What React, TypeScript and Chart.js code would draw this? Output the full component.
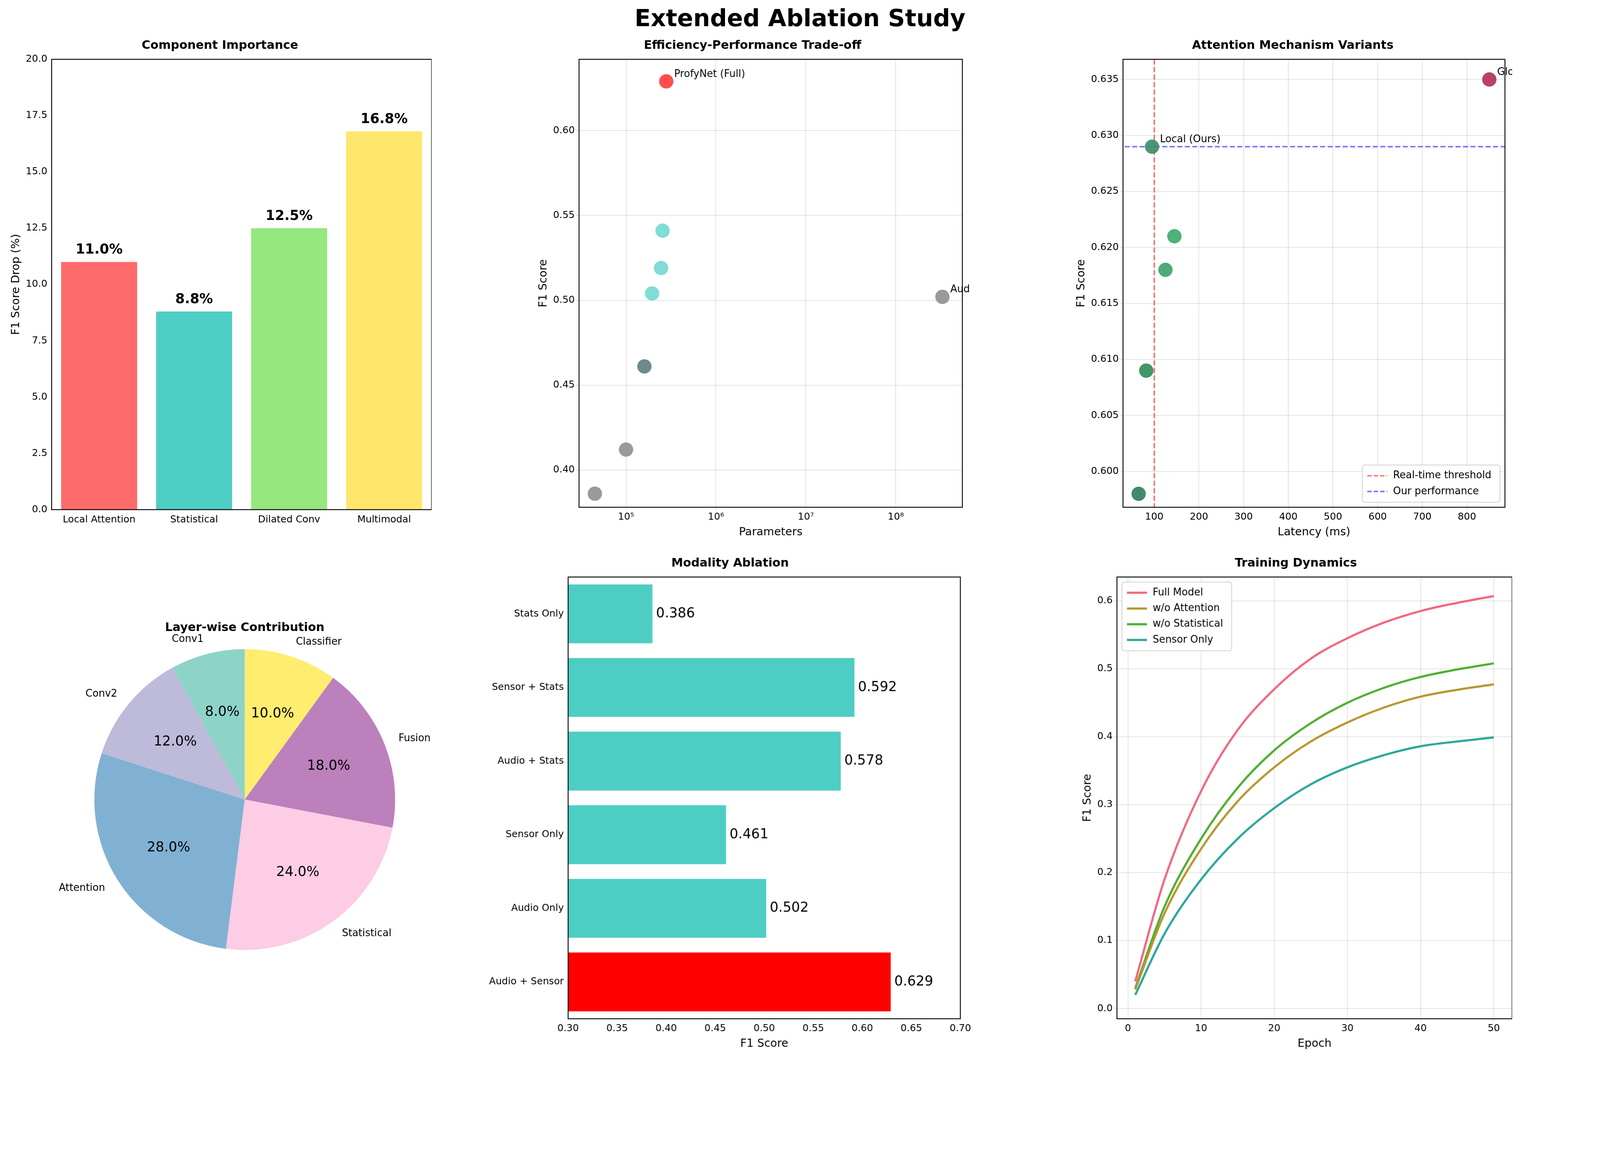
import { useEffect, useRef } from "react"
import { Chart, registerables } from "chart.js"

Chart.register(...registerables)

const FONT = "DejaVu Sans"
let K = 1 // css px per reference px
const px = (n: number) => n * K

// Component importance
const compLabels = ["Local Attention", "Statistical", "Dilated Conv", "Multimodal"]
const compDrop = [11.0, 8.8, 12.5, 16.8]
const compColors = ["#FF6B6B", "#4ECDC4", "#95E77E", "#FFE66D"]

// Efficiency trade-off
const effNames = ["ProfyNet (Full)", "", "", "", "", "", "", "Audio Only (MERT)"]
const effParams = [2.8e5, 2.55e5, 2.45e5, 1.95e5, 1.6e5, 1.0e5, 4.5e4, 3.3e8]
const effF1 = [0.629, 0.541, 0.519, 0.504, 0.461, 0.412, 0.386, 0.502]
const effColors = ["#FF4D4D", "#7FDCD6", "#7FDCD6", "#7FDCD6", "#6F8A8A", "#9A9A9A", "#9A9A9A", "#9A9A9A"]

// Attention variants
const attNames = ["", "", "Local (Ours)", "", "", "Global Attention"]
const attLatency = [65, 82, 95, 125, 145, 850]
const attF1 = [0.598, 0.609, 0.629, 0.618, 0.621, 0.635]
const attColors = ["#2E7D5B", "#2E8B57", "#3A8C6A", "#3CA06A", "#3CA86A", "#B03050"]

// Layer-wise contribution (clockwise from top)
const layerLabels = ["Classifier", "Fusion", "Statistical", "Attention", "Conv2", "Conv1"]
const layerShare = [10, 18, 24, 28, 12, 8]
const layerColors = ["#FFED6F", "#BC80BD", "#FCCDE5", "#80B1D3", "#BEBADA", "#8DD3C7"]

// Modality ablation
const modLabels = ["Stats Only", "Sensor + Stats", "Audio + Stats", "Sensor Only", "Audio Only", "Audio + Sensor"]
const modF1 = [0.386, 0.592, 0.578, 0.461, 0.502, 0.629]
const modColors = ["#4ECDC4", "#4ECDC4", "#4ECDC4", "#4ECDC4", "#4ECDC4", "#FF0000"]

// Training dynamics
const epochs = [1, 5, 10, 15, 20, 25, 30, 35, 40, 45, 50]
const fullModel = [0.04, 0.19, 0.32, 0.41, 0.47, 0.515, 0.545, 0.568, 0.585, 0.597, 0.607]
const woAttention = [0.028, 0.14, 0.235, 0.305, 0.355, 0.393, 0.421, 0.443, 0.459, 0.469, 0.477]
const woStatistical = [0.03, 0.15, 0.25, 0.325, 0.38, 0.42, 0.45, 0.472, 0.488, 0.499, 0.508]
const sensorOnly = [0.02, 0.11, 0.19, 0.25, 0.295, 0.33, 0.355, 0.373, 0.386, 0.393, 0.399]

const frame = {
  id: "frame",
  afterDraw(chart: any) {
    const { ctx, chartArea: a } = chart
    ctx.save()
    ctx.strokeStyle = "#000"
    ctx.lineWidth = px(2.5)
    ctx.strokeRect(a.left, a.top, a.right - a.left, a.bottom - a.top)
    ctx.restore()
  },
}

const titleOpt = (text: string) => ({
  display: true,
  text,
  color: "#000",
  font: { family: FONT, size: px(33), weight: "bold" as const },
  padding: { top: 0, bottom: px(18) },
})

const tickFont = () => ({ family: FONT, size: px(27) })
const axisTitle = (text: string) => ({ display: true, text, color: "#000", font: { family: FONT, size: px(31) } })
const grid = () => ({ color: "rgba(0,0,0,0.12)", lineWidth: px(2) })
const noGrid = { display: false }
const fixed = (vals: number[]) => (ax: any) => { ax.ticks = vals.map((v) => ({ value: v })) }

function legendBox(chart: any, items: { label: string; color: string; dash?: boolean }[], pos: "tl" | "br") {
  const { ctx, chartArea: a } = chart
  ctx.save()
  ctx.font = `${px(28)}px ${FONT}`
  const w = Math.max(...items.map((i) => ctx.measureText(i.label).width)) + px(110)
  const h = items.length * px(44) + px(16)
  const x = pos === "tl" ? a.left + px(14) : a.right - w - px(14)
  const y = pos === "tl" ? a.top + px(14) : a.bottom - h - px(14)
  ctx.fillStyle = "rgba(255,255,255,0.85)"
  ctx.strokeStyle = "#ccc"
  ctx.lineWidth = px(2)
  ctx.beginPath()
  ctx.roundRect(x, y, w, h, px(6))
  ctx.fill()
  ctx.stroke()
  items.forEach((it, i) => {
    const yy = y + px(30) + i * px(44)
    ctx.strokeStyle = it.color
    ctx.lineWidth = it.dash ? px(4) : px(6)
    ctx.setLineDash(it.dash ? [px(12), px(6)] : [])
    ctx.beginPath()
    ctx.moveTo(x + px(14), yy)
    ctx.lineTo(x + px(70), yy)
    ctx.stroke()
    ctx.setLineDash([])
    ctx.fillStyle = "#000"
    ctx.textBaseline = "middle"
    ctx.fillText(it.label, x + px(86), yy)
  })
  ctx.restore()
}

function makeConfigs(): any[] {
  const c1 = {
    type: "bar",
    data: { labels: compLabels, datasets: [{ data: compDrop, backgroundColor: compColors, barPercentage: 0.8, categoryPercentage: 1 }] },
    options: {
      scales: {
        x: { grid: noGrid, ticks: { font: tickFont(), color: "#000" } },
        y: { min: 0, max: 20, ticks: { stepSize: 2.5, font: tickFont(), color: "#000", callback: (v: number) => v.toFixed(1) }, grid: noGrid, title: axisTitle("F1 Score Drop (%)") },
      },
      plugins: { title: titleOpt("Component Importance") },
    },
    plugins: [frame, {
      id: "vals",
      afterDatasetsDraw(chart: any) {
        const { ctx } = chart
        ctx.save()
        ctx.font = `bold ${px(38)}px ${FONT}`
        ctx.textAlign = "center"
        ctx.textBaseline = "bottom"
        ctx.fillStyle = "#000"
        chart.getDatasetMeta(0).data.forEach((b: any, i: number) => ctx.fillText(compDrop[i].toFixed(1) + "%", b.x, b.y - px(14)))
        ctx.restore()
      },
    }],
  }

  const sup: Record<string, string> = { "5": "⁵", "6": "⁶", "7": "⁷", "8": "⁸" }
  const c2 = {
    type: "scatter",
    data: { datasets: [{ data: effParams.map((x, i) => ({ x, y: effF1[i] })), backgroundColor: effColors, pointRadius: px(20), borderWidth: 0 }] },
    options: {
      scales: {
        x: {
          type: "logarithmic", min: 3e4, max: 5.5e8, grid: grid(),
          afterBuildTicks: fixed([1e5, 1e6, 1e7, 1e8]),
          ticks: { font: tickFont(), color: "#000", callback: (v: number) => "10" + sup[String(Math.round(Math.log10(v)))] },
          title: axisTitle("Parameters"),
        },
        y: { min: 0.378, max: 0.642, grid: grid(), afterBuildTicks: fixed([0.4, 0.45, 0.5, 0.55, 0.6]), ticks: { font: tickFont(), color: "#000", callback: (v: number) => v.toFixed(2) }, title: axisTitle("F1 Score") },
      },
      plugins: { title: titleOpt("Efficiency-Performance Trade-off") },
    },
    plugins: [frame, {
      id: "ann",
      afterDatasetsDraw(chart: any) {
        const { ctx } = chart
        ctx.save()
        ctx.font = `${px(28)}px ${FONT}`
        ctx.fillStyle = "#000"
        ctx.textBaseline = "bottom"
        chart.getDatasetMeta(0).data.forEach((p: any, i: number) => { if (effNames[i]) ctx.fillText(effNames[i], p.x + px(22), p.y - px(6)) })
        ctx.restore()
      },
    }],
  }

  const c3 = {
    type: "scatter",
    data: {
      datasets: [
        { data: attLatency.map((x, i) => ({ x, y: attF1[i] })), backgroundColor: attColors.map((c) => c + "E6"), pointRadius: px(20), borderWidth: 0 },
        { type: "line", data: [{ x: 100, y: 0.5 }, { x: 100, y: 0.7 }], borderColor: "rgba(255,0,0,0.55)", borderDash: [px(14), px(7)], borderWidth: px(4), pointRadius: 0 },
        { type: "line", data: [{ x: 0, y: 0.629 }, { x: 1000, y: 0.629 }], borderColor: "rgba(0,0,255,0.55)", borderDash: [px(14), px(7)], borderWidth: px(4), pointRadius: 0 },
      ],
    },
    options: {
      scales: {
        x: { type: "linear", min: 30, max: 885, grid: grid(), afterBuildTicks: fixed([100, 200, 300, 400, 500, 600, 700, 800]), ticks: { font: tickFont(), color: "#000" }, title: axisTitle("Latency (ms)") },
        y: { min: 0.5968, max: 0.6368, grid: grid(), afterBuildTicks: fixed([0.6, 0.605, 0.61, 0.615, 0.62, 0.625, 0.63, 0.635]), ticks: { font: tickFont(), color: "#000", callback: (v: number) => v.toFixed(3) }, title: axisTitle("F1 Score") },
      },
      plugins: { title: titleOpt("Attention Mechanism Variants") },
    },
    plugins: [frame, {
      id: "ann",
      afterDraw(chart: any) {
        const { ctx } = chart
        ctx.save()
        ctx.font = `${px(28)}px ${FONT}`
        ctx.fillStyle = "#000"
        ctx.textBaseline = "bottom"
        chart.getDatasetMeta(0).data.forEach((p: any, i: number) => { if (attNames[i]) ctx.fillText(attNames[i], p.x + px(22), p.y - px(6)) })
        ctx.restore()
        legendBox(chart, [{ label: "Real-time threshold", color: "rgba(255,0,0,0.55)", dash: true }, { label: "Our performance", color: "rgba(0,0,255,0.55)", dash: true }], "br")
      },
    }],
  }

  const c4 = {
    type: "pie",
    data: { labels: layerLabels, datasets: [{ data: layerShare, backgroundColor: layerColors, borderWidth: 0 }] },
    options: {
      layout: { padding: { top: px(95), bottom: px(190), left: px(150), right: px(150) } },
      plugins: { title: titleOpt("Layer-wise Contribution"), legend: { display: false } },
    },
    plugins: [{
      id: "pieLabels",
      afterDatasetsDraw(chart: any) {
        const { ctx } = chart
        ctx.save()
        ctx.fillStyle = "#000"
        ctx.textBaseline = "middle"
        chart.getDatasetMeta(0).data.forEach((arc: any, i: number) => {
          const mid = (arc.startAngle + arc.endAngle) / 2
          const r = arc.outerRadius
          ctx.font = `${px(38)}px ${FONT}`
          ctx.textAlign = "center"
          ctx.fillText(layerShare[i].toFixed(1) + "%", arc.x + Math.cos(mid) * r * 0.6, arc.y + Math.sin(mid) * r * 0.6)
          ctx.font = `${px(28)}px ${FONT}`
          const lx = arc.x + Math.cos(mid) * r * 1.1
          const ly = arc.y + Math.sin(mid) * r * 1.1
          ctx.textAlign = Math.cos(mid) < -0.05 ? "right" : Math.cos(mid) > 0.05 ? "left" : "center"
          ctx.fillText(layerLabels[i], lx, ly)
        })
        ctx.restore()
      },
    }],
  }

  const c5 = {
    type: "bar",
    data: { labels: modLabels, datasets: [{ data: modF1, backgroundColor: modColors, barPercentage: 0.8, categoryPercentage: 1 }] },
    options: {
      indexAxis: "y",
      scales: {
        x: { min: 0.3, max: 0.7, grid: noGrid, ticks: { stepSize: 0.05, font: tickFont(), color: "#000", callback: (v: number) => v.toFixed(2) }, title: axisTitle("F1 Score") },
        y: { grid: noGrid, ticks: { font: tickFont(), color: "#000" } },
      },
      plugins: { title: titleOpt("Modality Ablation") },
    },
    plugins: [frame, {
      id: "vals",
      afterDatasetsDraw(chart: any) {
        const { ctx } = chart
        ctx.save()
        ctx.font = `${px(38)}px ${FONT}`
        ctx.textBaseline = "middle"
        ctx.fillStyle = "#000"
        chart.getDatasetMeta(0).data.forEach((b: any, i: number) => ctx.fillText(modF1[i].toFixed(3), b.x + px(10), b.y))
        ctx.restore()
      },
    }],
  }

  const series = [
    { label: "Full Model", data: fullModel, color: "#F0687F" },
    { label: "w/o Attention", data: woAttention, color: "#B8962E" },
    { label: "w/o Statistical", data: woStatistical, color: "#4DAF2E" },
    { label: "Sensor Only", data: sensorOnly, color: "#2BA59C" },
  ]
  const c6 = {
    type: "line",
    data: {
      datasets: series.map((s) => ({ label: s.label, data: epochs.map((x, i) => ({ x, y: s.data[i] })), borderColor: s.color, borderWidth: px(6), pointRadius: 0, cubicInterpolationMode: "monotone" })),
    },
    options: {
      scales: {
        x: { type: "linear", min: -1.5, max: 52.5, grid: grid(), afterBuildTicks: fixed([0, 10, 20, 30, 40, 50]), ticks: { font: tickFont(), color: "#000" }, title: axisTitle("Epoch") },
        y: { min: -0.015, max: 0.635, grid: grid(), afterBuildTicks: fixed([0, 0.1, 0.2, 0.3, 0.4, 0.5, 0.6]), ticks: { font: tickFont(), color: "#000", callback: (v: number) => v.toFixed(1) }, title: axisTitle("F1 Score") },
      },
      plugins: { title: titleOpt("Training Dynamics") },
    },
    plugins: [frame, { id: "leg", afterDraw: (chart: any) => legendBox(chart, series.map((s) => ({ label: s.label, color: s.color })), "tl") }],
  }
  return [c1, c2, c3, c4, c5, c6]
}

// canvas boxes in 1568-wide display coords (x, y, w, h)
const boxes = [
  [8, 38, 415, 478],
  [525, 38, 425, 492],
  [1052, 38, 430, 492],
  [40, 575, 400, 430],
  [478, 545, 475, 486],
  [1058, 545, 424, 486],
]

export default function App() {
  const refs = useRef<(HTMLCanvasElement | null)[]>([])
  const W = window.innerWidth || 4469
  K = W / 4469
  const S = W / 1568

  useEffect(() => {
    Chart.defaults.font.family = FONT
    Chart.defaults.color = "#000"
    const configs = makeConfigs()
    const charts = configs.map((cfg, i) => {
      cfg.options.animation = false
      cfg.options.responsive = false
      cfg.options.plugins.legend = { display: false }
      return new Chart(refs.current[i]!.getContext("2d")!, cfg)
    })
    return () => charts.forEach((c) => c.destroy())
  }, [])

  return (
    <div style={{ position: "fixed", left: 0, top: 0, width: W, height: W * 2956 / 4469, background: "#fff", overflow: "hidden" }}>
      <div style={{ position: "absolute", top: px(12), width: "100%", textAlign: "center", fontFamily: FONT, fontWeight: "bold", fontSize: px(66) }}>
        Extended Ablation Study
      </div>
      {boxes.map((b, i) => (
        <canvas
          key={i}
          ref={(el) => { refs.current[i] = el }}
          width={Math.round(b[2] * S)}
          height={Math.round(b[3] * S)}
          style={{ position: "absolute", left: b[0] * S, top: b[1] * S, width: b[2] * S, height: b[3] * S }}
        />
      ))}
    </div>
  )
}
